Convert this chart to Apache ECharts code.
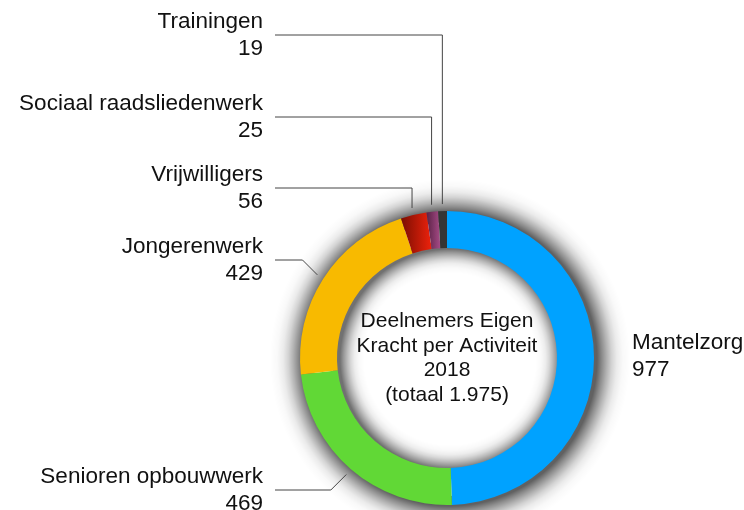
<!DOCTYPE html>
<html>
<head>
<meta charset="utf-8">
<script src="https://cdn.jsdelivr.net/npm/echarts@6/dist/echarts.min.js"></script>
<style>
  html, body { margin: 0; padding: 0; background: #fff; }
  #chart { width: 744px; height: 510px; }
</style>
</head>
<body>
<div id="chart"></div>
<script>
// data
const categories = ['Mantelzorg', 'Senioren opbouwwerk', 'Jongerenwerk', 'Vrijwilligers', 'Sociaal raadsliedenwerk', 'Trainingen']
const values = [977, 469, 429, 56, 25, 19]
const centerLines = ['Deelnemers Eigen', 'Kracht per Activiteit', '2018', '(totaal 1.975)']

// layout / style
const FONT = '"Liberation Sans", Arial, Helvetica, sans-serif'
const CENTER = [447, 358]
const RADIUS = [110, 147]
const labelY = [356, 490, 260, 188, 117, 35]
const grad = (a, b) => new echarts.graphic.LinearGradient(0, 0, 1, 0, [{ offset: 0, color: a }, { offset: 1, color: b }])
const colors = ['#00a2ff', '#61d836', '#f8ba00', grad('#7a0e02', '#ee220c'), grad('#5a2246', '#a64b86'), '#353535']

// soft drop shadow around the ring, faked with radial gradients (slightly shifted to the right)
const SH_C = [CENTER[0] + 3, CENTER[1] + 1]
const SHADOW_OUT = 180
const SHADOW_IN = 86
const falloff = [[0, 0.62], [0.15, 0.45], [0.3, 0.3], [0.45, 0.17], [0.6, 0.08], [0.78, 0.025], [1, 0]]
const shade = a => 'rgba(0,0,0,' + a + ')'
const outerStops = falloff.map(([t, a]) => ({
  offset: (RADIUS[1] + t * (SHADOW_OUT - RADIUS[1])) / SHADOW_OUT, color: shade(a)
}))
outerStops.unshift({ offset: 0, color: shade(falloff[0][1]) })
const innerStops = falloff.map(([t, a]) => ({
  offset: (RADIUS[0] - t * (RADIUS[0] - SHADOW_IN)) / (RADIUS[0] + 8), color: shade(a * 0.9)
})).reverse()
innerStops.push({ offset: 1, color: shade(falloff[0][1] * 0.9) })
const outerShadow = new echarts.graphic.RadialGradient(SH_C[0], SH_C[1], SHADOW_OUT, outerStops, true)
const innerShadow = new echarts.graphic.RadialGradient(SH_C[0], SH_C[1], RADIUS[0] + 8, innerStops, true)

const chart = echarts.init(document.getElementById('chart'))

const pieData = categories.map((name, i) => ({
  name: name,
  value: values[i],
  itemStyle: { color: colors[i] },
  labelLine: { show: i > 0 }
}))

chart.setOption({
  animation: false,
  graphic: [
    {
      type: 'ring',
      shape: { cx: SH_C[0], cy: SH_C[1], r: SHADOW_OUT, r0: RADIUS[1] - 10 },
      style: { fill: outerShadow },
      silent: true,
      z: -10
    },
    {
      type: 'ring',
      shape: { cx: SH_C[0], cy: SH_C[1], r: RADIUS[0] + 8, r0: SHADOW_IN - 2 },
      style: { fill: innerShadow },
      silent: true,
      z: -10
    },
    {
      type: 'text',
      x: CENTER[0],
      y: CENTER[1],
      style: {
        text: centerLines.join('\n'),
        align: 'center',
        verticalAlign: 'middle',
        textAlign: 'center',
        textVerticalAlign: 'middle',
        font: '21px ' + FONT,
        lineHeight: 24.5,
        fill: '#111'
      },
      z: 100
    }
  ],
  series: [
    {
      type: 'pie',
      center: CENTER,
      radius: RADIUS,
      startAngle: 90,
      clockwise: true,
      avoidLabelOverlap: false,
      z: 5,
      data: pieData,
      label: {
        show: true,
        position: 'outside',
        formatter: '{b}\n{c}',
        fontFamily: FONT,
        fontSize: 22.5,
        lineHeight: 27,
        color: '#111'
      },
      labelLine: {
        lineStyle: { color: '#444', width: 1 }
      },
      labelLayout: function (params) {
        const i = params.dataIndex
        if (i === 0) {
          return { x: 632, y: labelY[0], align: 'left', verticalAlign: 'middle' }
        }
        const pts = params.labelLinePoints
        const p0 = pts[0], p1 = pts[1]
        const dx = p1[0] - p0[0], dy = p1[1] - p0[1]
        const len = Math.hypot(dx, dy) || 1
        const s = [p0[0] + dx / len * 7, p0[1] + dy / len * 7]
        const y = labelY[i]
        // steep slices at the top get a straight vertical line, the others a 45° kink
        const elbow = Math.abs(dx / len) < 0.5 ? [s[0], y] : [s[0] - Math.abs(s[1] - y), y]
        return {
          x: 263,
          y: y,
          align: 'right',
          verticalAlign: 'middle',
          labelLinePoints: [s, elbow, [275, y]]
        }
      }
    }
  ]
})
</script>
</body>
</html>
